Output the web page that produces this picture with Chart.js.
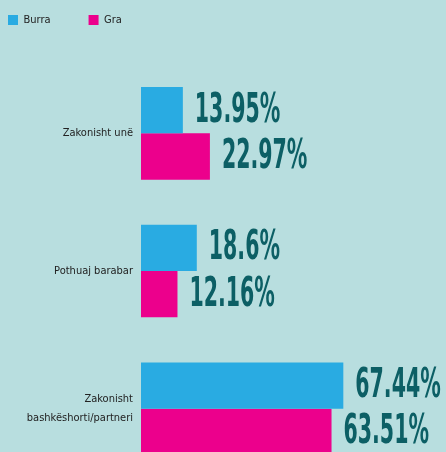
<!DOCTYPE html>
<html>
<head>
<meta charset="utf-8">
<script src="https://cdn.jsdelivr.net/npm/chart.js@4"></script>
<style>
  html, body { margin: 0; padding: 0; background: #b8dedf; overflow: hidden; }
  canvas { display: block; }
</style>
</head>
<body>
<canvas id="chart" width="446" height="495"></canvas>
<script>
const categories = ["Zakonisht unë", "Pothuaj barabar", ["Zakonisht", "bashkëshorti/partneri"]];
const seriesNames = ["Burra", "Gra"];
const burra = [13.95, 18.6, 67.44];
const gra = [22.97, 12.16, 63.51];
const seriesColors = ["#29abe2", "#ec008c"];

const FONT = "'DejaVu Sans Condensed', sans-serif";

// value labels at the end of each bar
const valueLabels = {
    id: "valueLabels",
    afterDatasetsDraw(chart) {
        const ctx = chart.ctx;
        ctx.save();
        ctx.fillStyle = "#0c5f65";
        ctx.font = "bold 40px " + FONT;
        ctx.textBaseline = "middle";
        ctx.textAlign = "left";
        chart.data.datasets.forEach((ds, i) => {
            chart.getDatasetMeta(i).data.forEach((bar, j) => {
                ctx.save();
                ctx.translate(bar.x + 12, bar.y + 1);
                ctx.scale(0.57, 1);
                ctx.fillText(ds.data[j] + "%", 0, 0);
                ctx.restore();
            });
        });
        ctx.restore();
    }
};

new Chart(document.getElementById("chart"), {
    type: "bar",
    data: {
        labels: categories,
        datasets: [
            { label: seriesNames[0], data: burra, backgroundColor: seriesColors[0] },
            { label: seriesNames[1], data: gra, backgroundColor: seriesColors[1] }
        ]
    },
    options: {
        indexAxis: "y",
        responsive: false,
        animation: false,
        categoryPercentage: 0.672,
        barPercentage: 1,
        layout: { padding: { left: -30, top: -23.5, right: 5, bottom: 2 } },
        scales: {
            x: {
                position: "top",
                min: 0, max: 100,
                grid: { display: false },
                border: { display: false },
                ticks: { display: false },
                afterFit(scale) { scale.height = 29; }
            },
            y: {
                grid: { display: false, drawTicks: false },
                border: { display: false },
                ticks: { color: "#222", padding: 8, font: { family: FONT, size: 11, lineHeight: 1.7 } },
                afterFit(scale) { scale.width = 171; }
            }
        },
        plugins: {
            legend: {
                align: "start",
                labels: {
                    boxWidth: 10,
                    boxHeight: 10,
                    padding: 38,
                    color: "#222",
                    font: { family: FONT, size: 11 }
                }
            },
            tooltip: { enabled: false }
        }
    },
    plugins: [valueLabels]
});
</script>
</body>
</html>
